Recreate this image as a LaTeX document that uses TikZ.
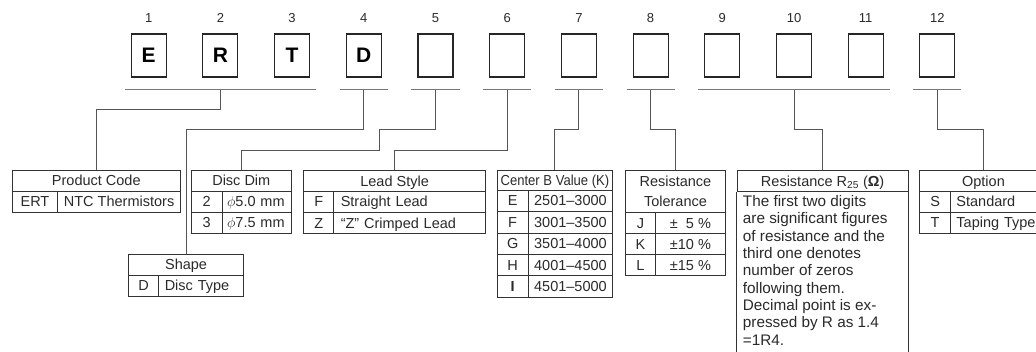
\documentclass[tikz,border=0pt]{standalone}
\usepackage{fontspec}
\setmainfont{Liberation Sans}
\usepackage{graphicx}
\definecolor{txt}{HTML}{2A2A2A}
\definecolor{tcol}{HTML}{333333}
\definecolor{barcol}{HTML}{777777}
\definecolor{conncol}{HTML}{555555}
\newcommand\tabfont{\fontsize{14.5}{17}\selectfont}
\newcommand\numfont{\fontsize{13}{13}\selectfont}
\newcommand\boxfont{\fontsize{21}{21}\selectfont\bfseries}
\tikzset{
  digbox/.style={draw=black!85, line width=1.1pt, minimum width=35, minimum height=43,
    inner sep=0pt, font=\boxfont, text height=15pt, text depth=0pt},
  num/.style={anchor=base, inner sep=0pt, font=\numfont, text=txt},
  bar/.style={draw=barcol, line width=1.4pt},
  conn/.style={draw=conncol, line width=1pt},
  cellbase/.style={draw=tcol, line width=0.9pt, inner sep=0pt, anchor=north west,
    font=\tabfont, text=txt},
  cell/.style={cellbase, text height=11.8pt, text depth=1.5pt},
  lcell/.style={cell, inner xsep=#1, align=left},
}
\begin{document}
\begin{tikzpicture}[x=1pt,y=-1pt]
\path[use as bounding box, clip] (0,0) rectangle (1036,352);
\fill[white] (0,0) rectangle (1036,352);

% digit boxes and numbers
\foreach \i/\l in {1/E,2/R,3/T,4/D,5/,6/,7/,8/,9/,10/,11/,12/} {
  \node[digbox] (b\i) at ({148.7+71.7*(\i-1)},55.5) {\l};
  \node[num] (n\i) at ({148.7+71.7*(\i-1)},22.5) {\i};
}

% bars
\draw[bar] ([xshift=-6pt,yshift=-12pt]b1.south west) -- ([xshift=6pt,yshift=-12pt]b3.south east);
\foreach \i in {4,5,6,7,8,12} {
  \draw[bar] ([xshift=-6pt,yshift=-12pt]b\i.south west) -- ([xshift=6pt,yshift=-12pt]b\i.south east);
}
\draw[bar] ([xshift=-6pt,yshift=-12pt]b9.south west) -- ([xshift=6pt,yshift=-12pt]b11.south east);

% ---- Product Code
\node[cell, minimum width=168.3, minimum height=20.7] (pc) at (11.7,170) {Product Code};
\node[cell, minimum width=45.6, minimum height=21] (pc1) at (11.7,190.7) {ERT};
\node[cell, minimum width=122.7, minimum height=21] (pc2) at (57.3,190.7) {NTC Thermistors};

% ---- Disc Dim
\node[cell, minimum width=100.3, minimum height=20.7] (dd) at (190.7,170) {Disc Dim};
\node[cell, minimum width=31, minimum height=21] (dd1a) at (190.7,190.7) {2};
\node[lcell=5pt, text width=59.3, minimum height=21] (dd1b) at (221.7,190.7) {$\phi$5.0 mm};
\node[cell, minimum width=31, minimum height=21] (dd2a) at (190.7,211.7) {3};
\node[lcell=5pt, text width=59.3, minimum height=21] (dd2b) at (221.7,211.7) {$\phi$7.5 mm};

% ---- Shape
\node[cell, minimum width=115.3, minimum height=20.7] (sh) at (128,254) {Shape};
\node[cell, minimum width=30.3, minimum height=21.3] (sh1a) at (128,274.7) {D};
\node[lcell=6pt, text width=73, minimum height=21.3] (sh1b) at (158.3,274.7) {Disc Type};

% ---- Lead Style
\node[cell, minimum width=181.7, minimum height=21] (ls) at (303.3,170) {Lead Style};
\node[cell, minimum width=30, minimum height=20.7] (ls1a) at (303.3,191) {F};
\node[lcell=7pt, text width=137.7, minimum height=20.7] (ls1b) at (333.3,191) {Straight Lead};
\node[cell, minimum width=30, minimum height=21.6] (ls2a) at (303.3,211.7) {Z};
\node[lcell=7pt, text width=137.7, minimum height=21.6] (ls2b) at (333.3,211.7) {“Z” Crimped Lead};

% ---- Center B Value
\node[cell, minimum width=115.6, minimum height=20] (cb) at (496.7,170) {\scalebox{0.9}[1]{Center B Value (K)}};
\foreach \y/\h/\a/\b [count=\k] in {190/20.7/E/2501–3000, 210.7/22/F/3001–3500, 232.7/21.3/G/3501–4000, 254/21/H/4001–4500, 275/21.7/\textbf{I}/4501–5000} {
  \node[cell, minimum width=31, minimum height=\h] (cb\k a) at (496.7,\y) {\a};
  \node[cell, minimum width=84.6, minimum height=\h] (cb\k b) at (527.7,\y) {\b};
}

% ---- Resistance Tolerance
\node[cellbase, minimum width=100, minimum height=41.7, align=center,
  font=\fontsize{14.5}{20.7}\selectfont] (tol) at (625,170) {Resistance\\Tolerance};
\node[cell, minimum width=30, minimum height=21.6] (tol1a) at (625,211.7) {J};
\node[cell, minimum width=70, minimum height=21.6] (tol1b) at (655,211.7) {±\phantom{1}5 \%};
\node[cell, minimum width=30, minimum height=20.7] (tol2a) at (625,233.3) {K};
\node[cell, minimum width=70, minimum height=20.7] (tol2b) at (655,233.3) {±10 \%};
\node[cell, minimum width=30, minimum height=21] (tol3a) at (625,254) {L};
\node[cell, minimum width=70, minimum height=21] (tol3b) at (655,254) {±15 \%};

% ---- Resistance R25
\node[cell, minimum width=171, minimum height=21] (r25) at (736.7,170) {Resistance R\textsubscript{25} (\textbf{Ω})};
\draw[draw=tcol, line width=0.9pt] (r25.south west) -- ++(0,200);
\draw[draw=tcol, line width=0.9pt] (r25.south east) -- ++(0,200);
\node[anchor=base west, inner sep=0pt, align=left, text=txt,
  font=\fontsize{15.3}{17.3}\selectfont] (r25txt) at (742.7,345.1)
  {The first two digits\\are significant figures\\of resistance and the\\third one denotes\\number of zeros\\following them.\\Decimal point is ex-\\pressed by R as 1.4\\=1R4.};

% ---- Option
\node[cell, minimum width=127.4, minimum height=21] (opt) at (919.3,170) {Option};
\node[cell, minimum width=30.7, minimum height=20.7] (opt1a) at (919.3,191) {S};
\node[lcell=6pt, text width=85.4, minimum height=20.7] (opt1b) at (950,191) {Standard};
\node[cell, minimum width=30.7, minimum height=21] (opt2a) at (919.3,211.7) {T};
\node[lcell=6pt, text width=85.4, minimum height=21] (opt2b) at (950,211.7) {Taping Type};

% ---- connectors
\draw[conn] ([yshift=-12pt]b2.south) -- ++(0,19.7) -| (pc.north);
\draw[conn] ([yshift=-12pt]b4.south) -- ++(0,39.5) -| (sh.north);
\draw[conn] ([yshift=-12pt]b5.south) -- ++(0,40) -- ++(-56.5,0) -- ++(0,20.5) -| (dd.north);
\draw[conn] ([yshift=-12pt]b6.south) -- ++(0,60.5) -| (ls.north);
\draw[conn] ([yshift=-12pt]b7.south) -- ++(0,40) -| (cb.north);
\draw[conn] ([yshift=-12pt]b8.south) -- ++(0,40) -| (tol.north);
\draw[conn] ([yshift=-12pt]b10.south) -- ++(0,39.5) -| (r25.north);
\draw[conn] ([yshift=-12pt]b12.south) -- ++(0,39.5) -| (opt.north);
\end{tikzpicture}
\end{document}
